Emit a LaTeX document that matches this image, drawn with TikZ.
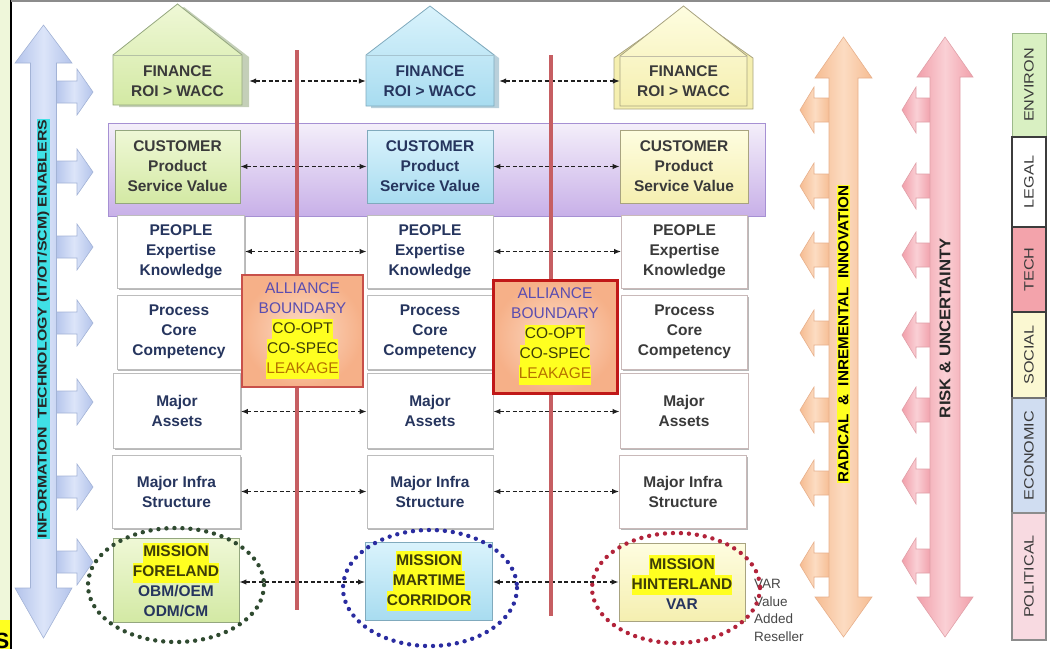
\documentclass[tikz,border=0pt]{standalone}
\usepackage{fontspec}
\setmainfont{Liberation Sans}
\usetikzlibrary{arrows.meta,shadings,shadows}

% palette
\definecolor{leftstrip}{HTML}{EFF7DA}
\definecolor{hly}{HTML}{FFFF20}
\definecolor{itcyan}{HTML}{40E0E6}
\definecolor{grnA}{HTML}{EFF8D6}
\definecolor{grnB}{HTML}{D3E9A4}
\definecolor{grnE}{HTML}{94A77E}
\definecolor{bluA}{HTML}{DAF3FC}
\definecolor{bluB}{HTML}{A8DCF0}
\definecolor{bluE}{HTML}{80AABD}
\definecolor{yelA}{HTML}{FEFDE0}
\definecolor{yelB}{HTML}{F5EFB0}
\definecolor{yelE}{HTML}{A8A380}
\definecolor{bandA}{HTML}{F4EFFA}
\definecolor{bandB}{HTML}{C8B0E8}
\definecolor{bandE}{HTML}{A690D3}
\definecolor{wbE}{HTML}{BDBDBD}
\definecolor{wbEr}{HTML}{C9B9B9}
\definecolor{redline}{HTML}{C65E62}
\definecolor{navy}{HTML}{26355E}
\definecolor{dgray}{HTML}{3A3A3A}
\definecolor{olive}{HTML}{3E3E08}
\definecolor{leak}{HTML}{B57200}
\definecolor{allyblue}{HTML}{5A4DB0}
\definecolor{allyA}{HTML}{FCDCC6}
\definecolor{allyB}{HTML}{F6B088}
\definecolor{allyE}{HTML}{C8504A}
\definecolor{allyEE}{HTML}{C01818}
\definecolor{itA}{HTML}{DCE5F9}
\definecolor{itB}{HTML}{B3C3EB}
\definecolor{itE}{HTML}{A3B3D6}
\definecolor{orA}{HTML}{FCDCC2}
\definecolor{orB}{HTML}{F6BC92}
\definecolor{orE}{HTML}{E7B08C}
\definecolor{pkA}{HTML}{FAD0D5}
\definecolor{pkB}{HTML}{F19FAA}
\definecolor{pkE}{HTML}{E0A0A8}
\definecolor{dotG}{HTML}{2F4A30}
\definecolor{dotB}{HTML}{2A2CA0}
\definecolor{dotR}{HTML}{B2233A}
\definecolor{pEnv}{HTML}{D9F0C2}
\definecolor{pEnvE}{HTML}{9CB98A}
\definecolor{pTech}{HTML}{F3A3AB}
\definecolor{pSoc}{HTML}{FBF8D2}
\definecolor{pEco}{HTML}{D0DDF1}
\definecolor{pPol}{HTML}{F8DAE1}
\definecolor{pEdge}{HTML}{3C3C3C}

% yellow text highlight, one line at a time
\newcommand{\hlt}[1]{{\setlength{\fboxsep}{0pt}\colorbox{hly}{\strut#1}}}
% house-shaped finance box: left x, right x, apex y, eave y, bottom y, style
\newcommand{\house}[6]{\path[#6] (#1,#5) -- (#1,#4) -- ({(#1+#2)/2},#3) -- (#2,#4) -- (#2,#5) -- cycle;}
% small block arrows leaving the vertical bars
\newcommand{\itpush}[1]{\path[itarrow] (55,{#1-11}) -- (77,{#1-11}) -- (77,{#1-23}) -- (93,#1) -- (77,{#1+23}) -- (77,{#1+11}) -- (55,{#1+11}) -- cycle;}
\newcommand{\orpush}[1]{\path[orarrow] (830,{#1-12}) -- (814,{#1-12}) -- (814,{#1-23}) -- (800,#1) -- (814,{#1+23}) -- (814,{#1+12}) -- (830,{#1+12}) -- cycle;}
\newcommand{\pkpush}[1]{\path[pkarrow] (931,{#1-12}) -- (916,{#1-12}) -- (916,{#1-23}) -- (902,#1) -- (916,{#1+23}) -- (916,{#1+12}) -- (931,{#1+12}) -- cycle;}

\begin{document}
\begin{tikzpicture}[x=1pt,y=-1pt,
  boxtxt/.style={font=\fontsize{15.5}{20}\selectfont\bfseries, align=center, inner sep=0pt},
  grnbox/.style={boxtxt, draw=grnE, line width=0.8pt, top color=grnA, bottom color=grnB, text=dgray},
  blubox/.style={boxtxt, draw=bluE, line width=0.8pt, top color=bluA, bottom color=bluB, text=navy},
  yelbox/.style={boxtxt, draw=yelE, line width=0.8pt, top color=yelA, bottom color=yelB, text=dgray},
  whitebox/.style={boxtxt, draw=#1, line width=0.9pt, fill=white,
    general shadow={fill=black!28, shadow xshift=1pt, shadow yshift=-2.2pt}},
  link/.style={line width=1.2pt, black!88, dash pattern=on 4pt off 2.5pt,
    {Latex[length=7pt,width=5.5pt]}-{Latex[length=7pt,width=5.5pt]}},
  divider/.style={redline, line width=3.2pt},
  ally/.style={font=\fontsize{15.5}{20}\selectfont, align=center, inner sep=0pt,
    inner color=allyA, outer color=allyB},
  dots/.style={line width=4.4pt, line cap=round, dash pattern=on 0pt off 8pt},
  itarrow/.style={draw=itE, line width=0.6pt, left color=itB, right color=itB, middle color=itA},
  orarrow/.style={draw=orE, line width=0.6pt, left color=orB, right color=orB, middle color=orA},
  pkarrow/.style={draw=pkE, line width=0.6pt, left color=pkB, right color=pkB, middle color=pkA},
  pest/.style={rotate=90, draw=pEdge, line width=1.8pt, minimum height=34, inner sep=0pt,
    text=dgray, font=\fontsize{13.5}{14}\selectfont},
]
\useasboundingbox (0,0) rectangle (1050,649);

% page edge: pale strip, frame lines and the clipped corner tag
\fill[leftstrip] (0,0) rectangle (10,649);
\begin{scope}
  \clip (0,620) rectangle (10,649);
  \fill[hly] (0,620) rectangle (10,649);
  \node[anchor=base east, inner sep=0pt, font=\fontsize{22}{22}\selectfont\bfseries] (cornertag) at (9.5,648) {S};
\end{scope}
\draw[black, line width=2pt] (10.5,0) -- (10.5,649);
\draw[black!45, line width=1.5pt] (10.5,0.8) -- (1050,0.8);

% customer band
\path[draw=bandE, line width=0.8pt, top color=bandA, bottom color=bandB] (108,123) rectangle (765,216);

% IT enablers bar with its push arrows
\foreach \yy in {92,172,247,323,402,487,562} {\itpush{\yy}}
\path[itarrow] (43.5,25) -- (72,63) -- (56.5,63) -- (56.5,588) -- (72,588) -- (43.5,638)
  -- (15,588) -- (30.5,588) -- (30.5,63) -- (15,63) -- cycle;
\node[rotate=90, fill=itcyan, inner sep=0.6pt, text=black!85] (itlabel) at (43.5,329)
  {\scalebox{1.27}[1]{\fontsize{12.5}{13}\selectfont\bfseries INFORMATION\ \ TECHNOLOGY (IT/OT/SCM) ENABLERS}};

% innovation bar
\foreach \yy in {110,186,255,333,410,483,565} {\orpush{\yy}}
\path[orarrow] (843.5,37) -- (872,78) -- (858,78) -- (858,597) -- (872,597) -- (843.5,637)
  -- (815,597) -- (829,597) -- (829,78) -- (815,78) -- cycle;
\node[rotate=90, fill=hly, inner sep=1pt, text=black] (innolabel) at (843.5,334)
  {\scalebox{1.05}[1]{\fontsize{14.5}{15}\selectfont\bfseries RADICAL\ \ \&\ \ INREMENTAL\ \ INNOVATION}};

% risk bar
\foreach \yy in {110,186,255,335,410,481,561} {\pkpush{\yy}}
\path[pkarrow] (945,37) -- (973,77) -- (960,77) -- (960,597) -- (973,597) -- (945,637)
  -- (917,597) -- (930,597) -- (930,77) -- (917,77) -- cycle;
\node[rotate=90, inner sep=0pt, text=black!85] (risklabel) at (945,328)
  {\scalebox{1.08}[1]{\fontsize{15.5}{16}\selectfont\bfseries RISK \& UNCERTAINTY}};

% finance houses
\house{119}{249}{7}{57}{107}{fill=grnE!55}
\house{113}{242}{4}{55}{105}{draw=grnE, line width=0.8pt, top color=grnA, bottom color=grnB}
\draw[grnE!70, line width=0.6pt] (113,55) -- (242,55);
\house{371}{499}{10}{58}{108}{fill=bluE!55}
\house{366}{494}{6}{55}{106}{draw=bluE, line width=0.8pt, top color=bluA, bottom color=bluB}
\draw[bluE!70, line width=0.6pt] (366,55) -- (494,55);
\house{614}{753}{9}{58}{109}{draw=yelE, line width=0.8pt, fill=yelB}
\house{620}{747}{6}{56}{106}{draw=yelE, line width=0.8pt, top color=yelA, bottom color=yelB}
\draw[yelE!70, line width=0.6pt] (620,56) -- (747,56);
\node[boxtxt, text=dgray, minimum width=129, minimum height=50] (finL) at (177.5,81) {FINANCE\\ROI > WACC};
\node[boxtxt, text=navy, minimum width=128, minimum height=50] (finM) at (430,81) {FINANCE\\ROI > WACC};
\node[boxtxt, text=dgray, minimum width=127, minimum height=50] (finR) at (683.5,81) {FINANCE\\ROI > WACC};

% customer row
\node[grnbox, minimum width=125, minimum height=73] (cusL) at (177.5,166.5) {CUSTOMER\\Product\\Service Value};
\node[blubox, minimum width=126, minimum height=73] (cusM) at (430,166.5) {CUSTOMER\\Product\\Service Value};
\node[yelbox, minimum width=128, minimum height=73] (cusR) at (684,166.5) {CUSTOMER\\Product\\Service Value};

% resource rows
\node[whitebox=wbE, text=navy, minimum width=127, minimum height=73] (peoL) at (181,251.5) {PEOPLE\\Expertise\\Knowledge};
\node[whitebox=wbE, text=navy, minimum width=126, minimum height=73] (peoM) at (430,251.5) {PEOPLE\\Expertise\\Knowledge};
\node[whitebox=wbEr, text=dgray, minimum width=126, minimum height=73] (peoR) at (684.5,251.5) {PEOPLE\\Expertise\\Knowledge};

\node[whitebox=wbE, text=navy, minimum width=124, minimum height=74] (proL) at (179,332) {Process\\Core\\Competency};
\node[whitebox=wbE, text=navy, minimum width=126, minimum height=74] (proM) at (430,332) {Process\\Core\\Competency};
\node[whitebox=wbEr, text=dgray, minimum width=126, minimum height=74] (proR) at (684.5,332) {Process\\Core\\Competency};

\node[whitebox=wbE, text=navy, minimum width=127, minimum height=75] (assL) at (177,410.5) {Major\\Assets};
\node[whitebox=wbE, text=navy, minimum width=126, minimum height=75] (assM) at (430,410.5) {Major\\Assets};
\node[whitebox=wbEr, text=dgray, minimum width=128, minimum height=75] (assR) at (684,410.5) {Major\\Assets};

\node[whitebox=wbE, text=navy, minimum width=128, minimum height=73] (infL) at (176.5,491.5) {Major Infra\\Structure};
\node[whitebox=wbE, text=navy, minimum width=126, minimum height=73] (infM) at (430,491.5) {Major Infra\\Structure};
\node[whitebox=wbEr, text=dgray, minimum width=127, minimum height=73] (infR) at (683,491.5) {Major Infra\\Structure};

% mission row
\node[grnbox, text=olive, minimum width=126, minimum height=84] (misL) at (176,580)
  {\hlt{MISSION}\\\hlt{FORELAND}\\\textcolor{navy}{OBM/OEM}\\\textcolor{navy}{ODM/CM}};
\node[blubox, text=olive, minimum width=127, minimum height=78] (misM) at (429,581)
  {\hlt{MISSION}\\\hlt{MARTIME}\\\hlt{CORRIDOR}};
\node[yelbox, text=olive, minimum width=126, minimum height=78] (misR) at (682,582)
  {\hlt{MISSION}\\\hlt{HINTERLAND}\\\textcolor{navy}{VAR}};

% peer links between the three partners
\draw[link] ([xshift=7pt]finL.east) -- (finM.west);
\draw[link] ([xshift=5pt]finM.east) -- (finR.west);
\draw[link] (cusL.east) -- (cusM.west);
\draw[link] (cusM.east) -- (cusR.west);
\draw[link] (peoL.east) -- (peoM.west);
\draw[link] (peoM.east) -- (peoR.west);
\draw[link] ([yshift=-1pt]assL.east) -- ([yshift=-1pt]assM.west);
\draw[link] ([yshift=-1pt]assM.east) -- ([yshift=-1pt]assR.west);
\draw[link] (infL.east) -- (infM.west);
\draw[link] (infM.east) -- (infR.west);
\draw[link] ([yshift=-2pt]misL.east) -- ([yshift=-1pt]misM.west);
\draw[link] ([yshift=-1pt]misM.east) -- (misR.west);

% alliance dividers
\coordinate (divAtop) at (297,50);
\coordinate (divAbot) at (297,610);
\coordinate (divBtop) at (551,55);
\coordinate (divBbot) at (551,616);
\draw[divider] (divAtop) -- (divAbot);
\draw[divider] (divBtop) -- (divBbot);

% alliance boundary boxes
\node[ally, draw=allyE, line width=2pt, minimum width=121, minimum height=112] (allyA) at (302.5,331)
  {\textcolor{allyblue}{ALLIANCE}\\\textcolor{allyblue}{BOUNDARY}\\\hlt{\textcolor{olive}{CO-OPT}}\\\hlt{\textcolor{olive}{CO-SPEC}}\\\hlt{\textcolor{leak}{LEAKAGE}}};
\node[ally, draw=allyEE, line width=3pt, minimum width=124, minimum height=113] (allyB) at (555,336.5)
  {\textcolor{allyblue}{ALLIANCE}\\\textcolor{allyblue}{BOUNDARY}\\\hlt{\textcolor{olive}{CO-OPT}}\\\hlt{\textcolor{olive}{CO-SPEC}}\\\hlt{\textcolor{leak}{LEAKAGE}}};

% reseller note and mission rings
\node[anchor=north west, align=left, inner sep=0pt, text=black!72,
  font=\fontsize{13.5}{17.7}\selectfont] (varnote) at (754,579) {VAR\\Value\\Added\\Reseller};
\draw[dots, dotG] (176,585) ellipse [x radius=88, y radius=57];
\draw[dots, dotB] (430,588) ellipse [x radius=87, y radius=58];
\draw[dots, dotR] (676,588) ellipse [x radius=84, y radius=55];

% PESTLE stack
\node[pest, draw=pEnvE, line width=1pt, fill=pEnv, minimum width=104] (penv) at (1029,85) {\scalebox{1.2}[1]{ENVIRON}};
\node[pest, fill=white, minimum width=90] (plegal) at (1029,182) {\scalebox{1.2}[1]{LEGAL}};
\node[pest, fill=pTech, minimum width=85] (ptech) at (1029,269.5) {\scalebox{1.2}[1]{TECH}};
\node[pest, fill=pSoc, minimum width=86] (psocial) at (1029,355) {\scalebox{1.2}[1]{SOCIAL}};
\node[pest, draw=black!55, fill=pEco, minimum width=115] (peco) at (1029,455.5) {\scalebox{1.2}[1]{ECONOMIC}};
\node[pest, draw=black!45, fill=pPol, minimum width=127] (ppol) at (1029,576.5) {\scalebox{1.2}[1]{POLITICAL}};
\end{tikzpicture}
\end{document}
